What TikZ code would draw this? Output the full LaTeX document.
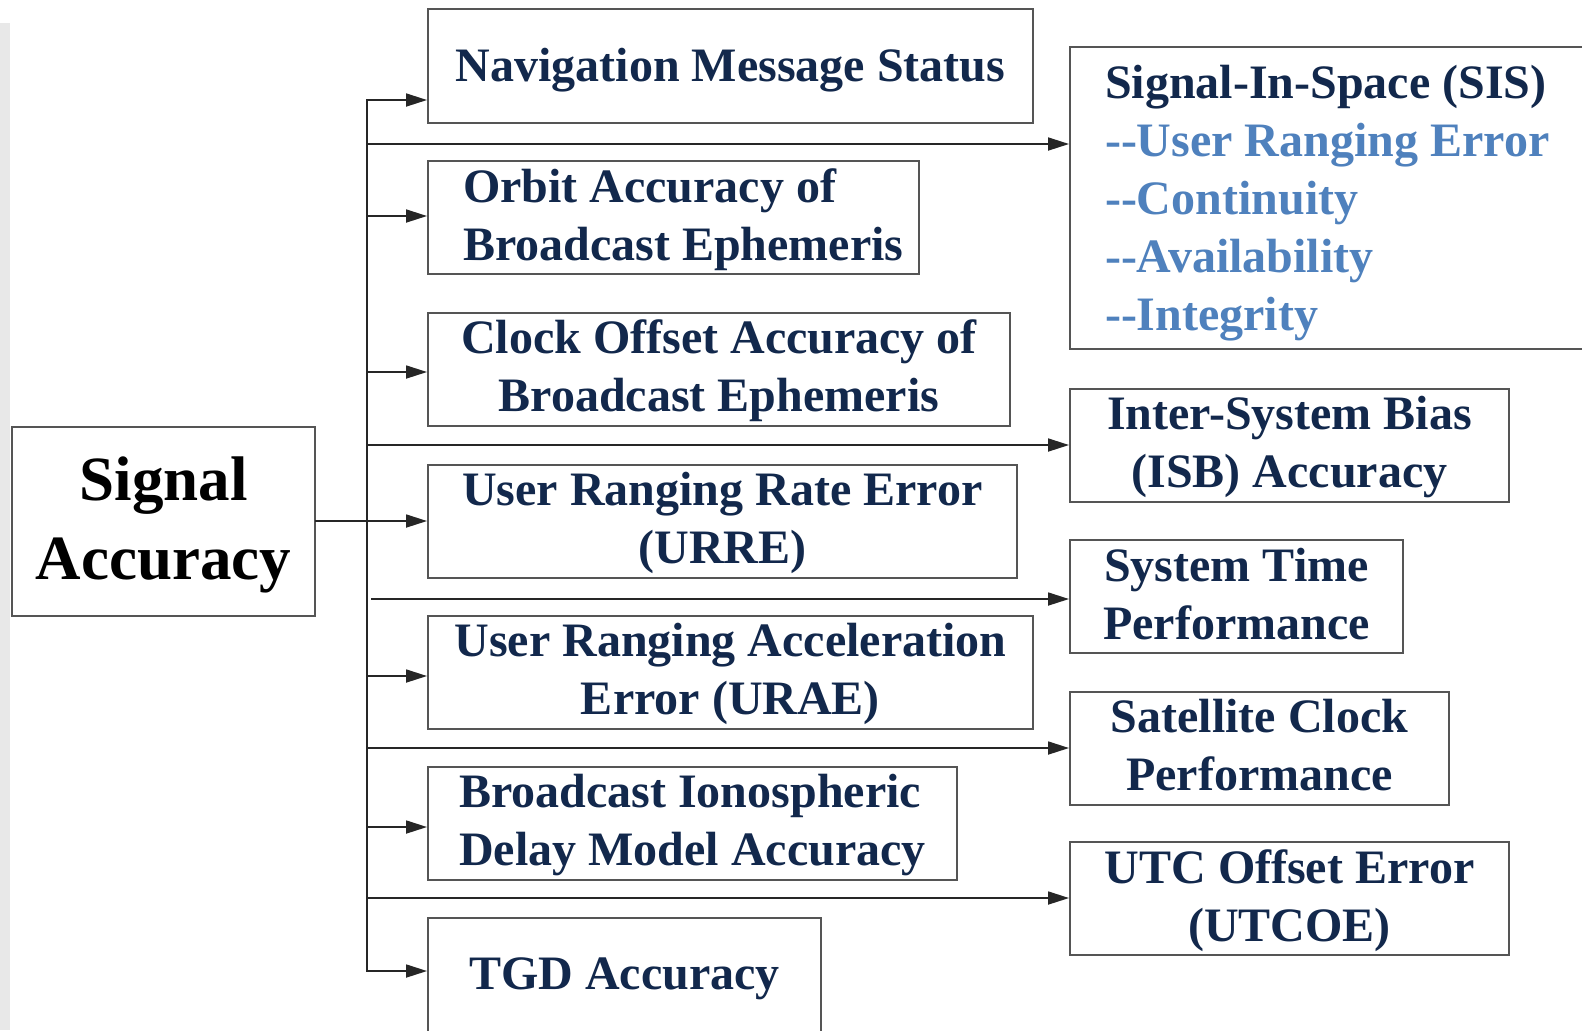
\documentclass[tikz,border=0pt]{standalone}
\usepackage{fontspec}
\setmainfont{Liberation Serif}
\usetikzlibrary{arrows.meta}

\definecolor{navytext}{RGB}{18,40,76}
\definecolor{itemblue}{RGB}{79,129,189}
\definecolor{boxgray}{RGB}{85,85,85}
\definecolor{stripgray}{RGB}{232,232,232}

% fixed struts so every label sits at a set height in its box
\newcommand{\hs}[1][20.5pt]{\rule{0pt}{#1}}
\newcommand{\ds}[1][7pt]{\rule[-#1]{0pt}{#1}}
\newcommand{\bighs}{\rule{0pt}{28pt}}
\newcommand{\bigds}{\rule[-9pt]{0pt}{9pt}}

\tikzset{
  box/.style={draw=boxgray, line width=1pt, inner sep=0pt, align=center,
    text=navytext, font=\bfseries\fontsize{24}{29}\selectfont},
  rootbox/.style={box, text=black, font=\bfseries\fontsize{31.5}{39.5}\selectfont},
  conn/.style={draw=black!85, line width=0.9pt, line cap=rect},
  arr/.style={conn, -{Triangle[length=10.5pt,width=6.5pt]}},
}

\begin{document}
\begin{tikzpicture}[x=0.5pt,y=-0.5pt]
  \clip (0,0) rectangle (1582,1030);
  \fill[white] (0,0) rectangle (1582,1030);
  \fill[stripgray] (0,23) rectangle (10,1030);

  % root
  \node[rootbox, minimum width=151.5pt, minimum height=94.5pt] (sa) at (163.5,521) {\bighs Signal\\Accuracy\bigds};

  % left column
  \node[box, minimum width=302.5pt, minimum height=57pt] (nav) at (730.5,66) {\hs[22.5pt]Navigation Message Status\ds};
  \node[box, align=flush left, text width=210.5pt, inner xsep=17.5pt, minimum height=56.5pt] (orbit) at (673.5,217.5)
    {\hs Orbit Accuracy of\\\mbox{Broadcast Ephemeris}\ds};
  \node[box, minimum width=291pt, minimum height=56pt] (clock) at (719,369) {\hs Clock Offset Accuracy of\\Broadcast Ephemeris\ds};
  \node[box, minimum width=294.5pt, minimum height=56.5pt] (urre) at (722.5,521) {\hs User Ranging Rate Error\\(URRE)\ds};
  \node[box, minimum width=302.5pt, minimum height=56pt] (urae) at (730.5,672) {\hs User Ranging Acceleration\\Error (URAE)\ds};
  \node[box, align=left, minimum width=264.5pt, minimum height=56pt] (iono) at (692.5,823) {\hs Broadcast Ionospheric\\Delay Model Accuracy\ds};
  \node[box, minimum width=196.5pt, minimum height=61pt] (tgd) at (624.5,979) {\hs TGD Accuracy\ds[10pt]};

  % right column
  \node[box, align=flush left, text width=230pt, inner xsep=17.5pt, minimum height=151pt] (sis) at (1335,198)
    {\hs[23pt]Signal-In-Space (SIS)\\
     \textcolor{itemblue}{-{}-User Ranging Error}\\
     \textcolor{itemblue}{-{}-Continuity}\\
     \textcolor{itemblue}{-{}-Availability}\\
     \textcolor{itemblue}{-{}-Integrity}\ds};
  \node[box, minimum width=219.5pt, minimum height=56pt] (isb) at (1289.5,445) {\hs Inter-System Bias\\(ISB) Accuracy\ds};
  \node[box, minimum width=166.5pt, minimum height=56.5pt] (systime) at (1236.5,596.5) {\hs System Time\\Performance\ds};
  \node[box, minimum width=189.5pt, minimum height=56pt] (satclk) at (1259.5,748) {\hs Satellite Clock\\Performance\ds};
  \node[box, minimum width=219.5pt, minimum height=56.5pt] (utc) at (1289.5,898.5) {\hs UTC Offset Error\\(UTCOE)\ds};

  % junctions on the trunk
  \coordinate (jnav) at (367,100);
  \coordinate (jsis) at (367,144);
  \coordinate (jorbit) at (367,216);
  \coordinate (jclock) at (367,372);
  \coordinate (jisb) at (367,445);
  \coordinate (jsys) at (372,599);
  \coordinate (jurae) at (367,676);
  \coordinate (jsat) at (367,748);
  \coordinate (jiono) at (367,827);
  \coordinate (jutc) at (367,898);
  \coordinate (jtgd) at (367,971);

  % trunk with the first branch
  \draw[arr] (jtgd) -- (jnav) -- (jnav -| nav.west);

  % branches to the left column
  \draw[arr] (jorbit) -- (jorbit -| orbit.west);
  \draw[arr] (jclock) -- (jclock -| clock.west);
  \draw[arr] (sa.east) -- (urre.west);
  \draw[arr] (jurae) -- (jurae -| urae.west);
  \draw[arr] (jiono) -- (jiono -| iono.west);
  \draw[arr] (jtgd) -- (jtgd -| tgd.west);

  % branches to the right column
  \draw[arr] (jsis) -- (jsis -| sis.west);
  \draw[arr] (jisb) -- (jisb -| isb.west);
  \draw[arr] (jsys) -- (jsys -| systime.west);
  \draw[arr] (jsat) -- (jsat -| satclk.west);
  \draw[arr] (jutc) -- (jutc -| utc.west);
\end{tikzpicture}
\end{document}
